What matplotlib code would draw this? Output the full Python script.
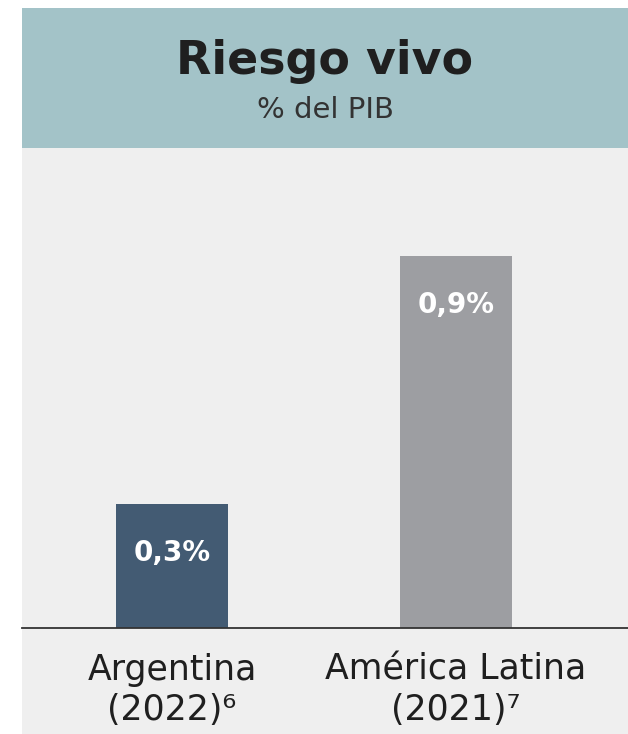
import matplotlib.pyplot as plt
from matplotlib.patches import Rectangle

# datos
categorias = ["Argentina\n(2022)\u2076", "América Latina\n(2021)\u2077"]
valores = [0.3, 0.9]
etiquetas = ["0,3%", "0,9%"]
colores = ["#435b73", "#9d9ea2"]

W, H = 628, 734
fig = plt.figure(figsize=(W / 100, H / 100), dpi=100)
fig.patch.set_facecolor("white")

# fondo del panel y cabecera
x0 = 22 / W
fig.patches.append(Rectangle((x0, 0), 1 - x0, 1 - 148 / H, transform=fig.transFigure,
                             facecolor="#efefef", edgecolor="none", zorder=-2))
fig.patches.append(Rectangle((x0, 1 - 148 / H), 1 - x0, (148 - 8) / H, transform=fig.transFigure,
                             facecolor="#a3c3c8", edgecolor="none", zorder=-2))

cx = (x0 + 1) / 2
fig.text(cx, 1 - 61 / H, "Riesgo vivo", ha="center", va="center", fontsize=33,
         fontweight="bold", color="#1f1f1f", family=["DejaVu Sans"])
fig.text(cx, 1 - 110 / H, "% del PIB", ha="center", va="center", fontsize=21,
         color="#333333", family=["DejaVu Sans"])

# ejes de barras
ax = fig.add_axes([x0, 1 - 628 / H, 1 - x0, (628 - 148) / H], zorder=2)
ax.set_facecolor("none")
pos = [0, 1]
ax.bar(pos, valores, width=0.394, color=colores, zorder=2)
ax.set_xlim(-0.528, 1.606)
ax.set_ylim(0, 1.162)

for s in ["top", "right", "left"]:
    ax.spines[s].set_visible(False)
ax.spines["bottom"].set_color("#333333")
ax.spines["bottom"].set_linewidth(1.3)
ax.set_yticks([])
ax.set_xticks(pos)
ax.set_xticklabels(categorias, fontsize=25, color="#1f1f1f",
                   family=["DejaVu Sans"], linespacing=1.22)
ax.tick_params(axis="x", length=0, pad=18)

for p, v, t in zip(pos, valores, etiquetas):
    ax.text(p, v - 0.118, t, ha="center", va="center", color="white", fontsize=20,
            fontweight="bold", family=["DejaVu Sans"], zorder=3)

fig.savefig("out.png", dpi=100)
